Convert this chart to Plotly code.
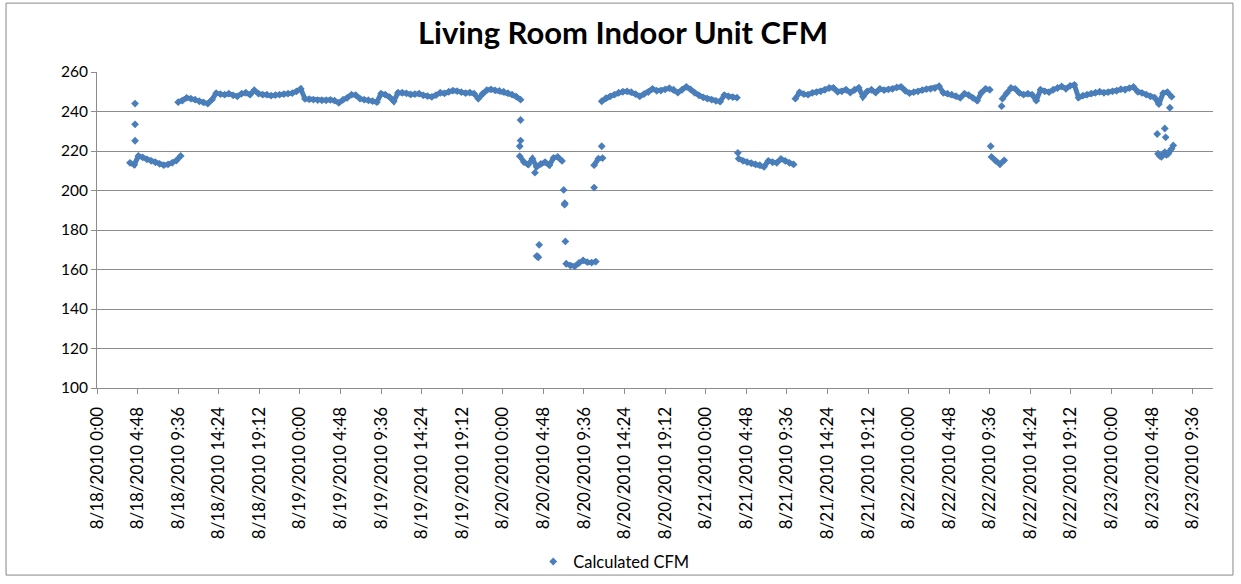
import plotly.graph_objects as go
import pandas as pd

# regular 30-minute readings, one list per run of the unit
seg_a_start = "2010-08-18 03:54"
seg_a = [214.0, 213.0, 217.5, 216.8, 215.8, 215.0, 214.3, 213.5, 212.8, 213.2, 214.0, 215.2, 217.5]

seg_b_start = "2010-08-18 09:36"
seg_b = [244.7, 245.5, 246.9, 246.5, 246.0, 245.2, 244.6, 244.0, 246.0, 249.3,
         248.8, 248.5, 249.0, 248.2, 247.7, 249.0, 249.5, 248.5, 250.8, 249.0,
         248.5, 248.5, 248.0, 248.3, 248.5, 248.8, 249.0, 249.3, 250.2, 251.5,
         246.4, 246.2, 246.0, 245.8, 245.7, 245.7, 245.9, 245.5, 244.4, 246.0,
         246.9, 248.5, 248.3, 246.5, 246.0, 245.7, 245.3, 244.7, 249.0, 248.5,
         247.3, 245.2, 249.5, 249.5, 249.2, 248.6, 248.8, 249.0, 248.2, 247.8,
         247.4, 248.3, 249.5, 249.2, 250.0, 250.6, 250.3, 249.8, 249.3, 249.6,
         249.0, 246.5, 249.0, 250.8, 251.2, 250.7, 250.4, 250.0, 249.3, 248.5, 247.5, 246.0]

seg_c1_start = "2010-08-20 02:00"
seg_c1 = [217.4, 214.4, 213.1, 216.1, 212.0, 213.5, 214.4, 212.8, 216.5, 217.0, 215.0]

seg_c2_start = "2010-08-20 07:30"
seg_c2 = [162.9, 162.0, 161.6, 163.3, 164.6, 163.7, 163.5, 164.0]

seg_c3_start = "2010-08-20 10:48"
seg_c3 = [212.8, 216.1, 216.4]

seg_d_start = "2010-08-20 11:42"
seg_d = [245.2, 246.8, 247.7, 248.5, 249.5, 250.0, 250.2, 249.8, 248.8, 247.7,
         248.8, 249.8, 251.5, 250.5, 250.6, 251.2, 251.8, 251.0, 249.6, 251.0,
         252.5, 251.2, 249.4, 248.2, 247.2, 246.5, 246.0, 245.4, 245.0, 248.3,
         247.6, 247.3, 247.0]

seg_e_start = "2010-08-21 03:54"
seg_e = [216.1, 215.0, 214.4, 213.8, 213.2, 212.8, 212.0, 215.0, 214.3, 214.0, 216.0, 215.0, 214.0, 213.2]

seg_f_start = "2010-08-21 10:36"
seg_f = [246.5, 249.7, 248.8, 248.5, 249.4, 249.8, 250.2, 251.0, 251.9, 252.0,
         250.0, 250.2, 251.0, 249.6, 251.0, 252.0, 247.5, 250.2, 251.0, 249.6,
         251.5, 250.8, 251.2, 251.5, 252.2, 252.5, 250.5, 249.3, 249.8, 250.2,
         250.8, 251.3, 251.5, 251.8, 252.8, 249.5, 249.0, 248.5, 247.8, 246.9,
         249.0, 248.3, 246.9, 245.5, 249.5, 251.5, 251.0]

seg_g_start = "2010-08-22 09:48"
seg_g = [217.0, 215.0, 213.3, 215.3]

seg_h_start = "2010-08-22 11:06"
seg_h = [246.5, 249.3, 251.9, 251.5, 249.4, 248.5, 249.0, 248.5, 245.5, 251.0,
         250.2, 249.8, 251.0, 251.9, 252.7, 251.5, 253.0, 253.5, 247.0, 248.0,
         248.5, 249.0, 249.5, 250.0, 249.5, 249.8, 250.2, 250.5, 251.3, 251.0,
         251.8, 252.4, 250.0, 249.4, 248.5, 247.7, 247.0, 243.8, 249.3, 249.8,
         247.5]

# isolated readings during transitions
extra_times = ["2010-08-18 04:30", "2010-08-18 04:30", "2010-08-18 04:30",
               "2010-08-20 02:06", "2010-08-20 02:06", "2010-08-20 02:00",
               "2010-08-20 03:48", "2010-08-20 04:06", "2010-08-20 04:12", "2010-08-20 04:00",
               "2010-08-20 04:18", "2010-08-20 07:12", "2010-08-20 07:18", "2010-08-20 07:20",
               "2010-08-20 07:24", "2010-08-20 10:48", "2010-08-20 11:42",
               "2010-08-21 03:48", "2010-08-22 09:42", "2010-08-22 11:00",
               "2010-08-23 05:24", "2010-08-23 06:18", "2010-08-23 06:24",
               "2010-08-23 05:30", "2010-08-23 05:42", "2010-08-23 05:54", "2010-08-23 06:06",
               "2010-08-23 06:18", "2010-08-23 06:30", "2010-08-23 06:42", "2010-08-23 06:54",
               "2010-08-23 07:06", "2010-08-23 07:18", "2010-08-23 06:54"]
extra_vals = [244.0, 233.5, 225.2,
              235.7, 225.3, 222.4,
              209.0, 166.6, 166.2, 166.8,
              172.5, 200.3, 192.8, 193.6,
              174.2, 201.5, 222.4,
              219.1, 222.4, 242.7,
              228.6, 231.4, 226.9,
              218.6, 217.5, 217.0, 218.5,
              219.4, 218.0, 218.6, 220.0,
              221.1, 222.8, 241.9]

segments = [(seg_a_start, seg_a), (seg_b_start, seg_b), (seg_c1_start, seg_c1),
            (seg_c2_start, seg_c2), (seg_c3_start, seg_c3), (seg_d_start, seg_d),
            (seg_e_start, seg_e), (seg_f_start, seg_f), (seg_g_start, seg_g),
            (seg_h_start, seg_h)]

xs, ys = [], []
band_x, band_y = [], []
for start, vals in segments:
    times = list(pd.date_range(start, periods=len(vals), freq="30min"))
    xs.extend(times)
    ys.extend(vals)
    band_x.extend(times + [None])
    band_y.extend(vals + [None])
xs.extend(pd.to_datetime(extra_times))
ys.extend(extra_vals)

blue = "#4A7EBB"
grid = "#8C8C8C"
fig_h = 592

fig = go.Figure()
# dense readings overlap into a solid band in the original
fig.add_trace(go.Scatter(
    x=band_x, y=band_y, mode="lines", showlegend=False, hoverinfo="skip",
    line=dict(color=blue, width=5), connectgaps=False
))
fig.add_trace(go.Scatter(
    x=xs, y=ys, mode="markers", name="Calculated CFM",
    marker=dict(symbol="diamond", size=6, color=blue, line=dict(width=0))
))

fig.update_layout(
    width=1241, height=fig_h,
    margin=dict(l=97, r=28, t=72, b=fig_h - 393),
    paper_bgcolor="white", plot_bgcolor="white",
    font=dict(family="Lato, Arial, sans-serif", size=15.5, color="black"),
    title=dict(text="<b>Living Room Indoor Unit CFM</b>", x=0.502, xanchor="center",
               y=1 - 33 / fig_h, yanchor="middle", font=dict(size=31, color="black")),
    showlegend=True,
    legend=dict(orientation="h", x=0.463, xanchor="center", y=-0.55, yanchor="middle",
                font=dict(size=16.5), bgcolor="rgba(0,0,0,0)", itemwidth=30),
    shapes=[dict(type="rect", xref="paper", yref="paper", x0=-0.0815, x1=1.0179,
                 y0=-0.592, y1=1.218, line=dict(color="#888888", width=1))],
)

fig.update_xaxes(
    range=["2010-08-18 00:00", "2010-08-23 12:00"],
    tick0="2010-08-18 00:00", dtick=4.8 * 3600 * 1000,
    tickformat="%-m/%d/%Y %-H:%M", tickangle=-90, tickfont=dict(size=17),
    ticklabelstandoff=6,
    showgrid=False, showline=True, linecolor=grid, linewidth=1,
    ticks="outside", ticklen=5, tickcolor=grid, zeroline=False, automargin=False,
)
fig.update_yaxes(
    range=[100, 260], dtick=20, tick0=100,
    showgrid=True, gridcolor=grid, gridwidth=1,
    showline=True, linecolor=grid, linewidth=1,
    ticks="outside", ticklen=5, tickcolor=grid, zeroline=False, automargin=False,
)

fig.write_html("out.html", config={"displayModeBar": False, "responsive": False},
               post_script="document.body.style.margin='0';")
